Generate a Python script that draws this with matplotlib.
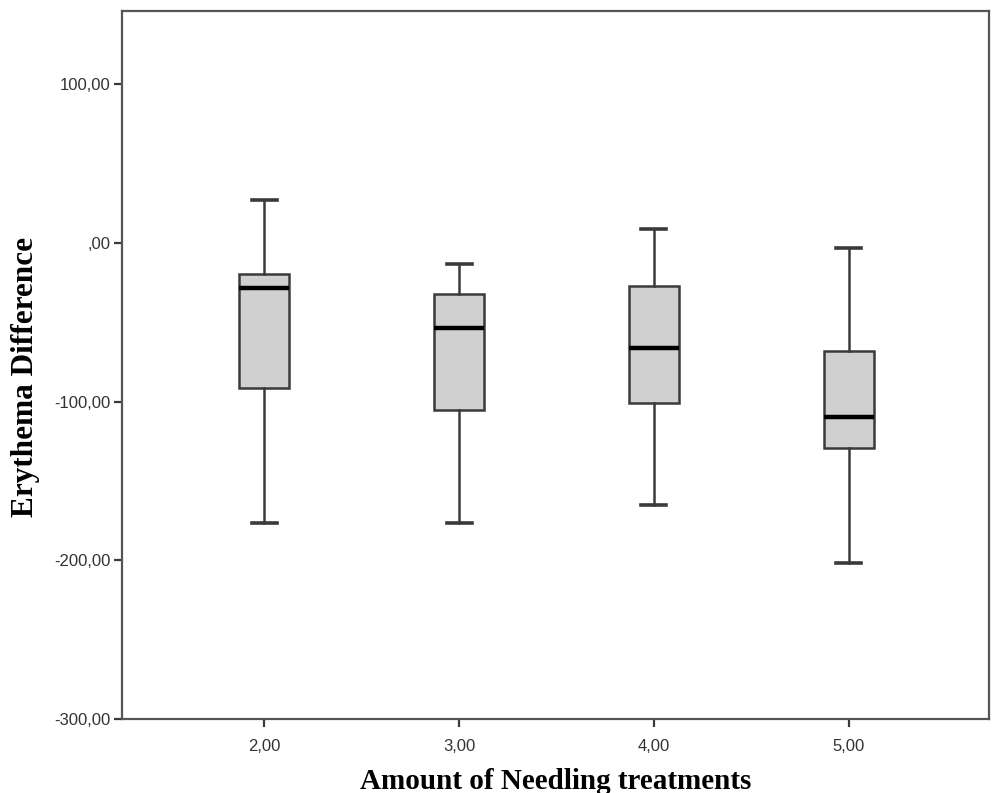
import numpy as np
import matplotlib
matplotlib.use('Agg')
import matplotlib.pyplot as plt

# Du lieu doc tu hinh (5 so: whisker tren, Q3, median, Q1, whisker duoi)
nhom = [2, 3, 4, 5]
nhan_x = ['2,00', '3,00', '4,00', '5,00']
whisker_tren = [27.0, -13.2, 8.8, -3.1]
q3 = [-19.4, -32.0, -26.9, -68.3]
trung_vi = [-28.2, -53.9, -66.1, -109.7]
q1 = [-91.5, -105.3, -100.6, -129.1]
whisker_duoi = [-176.2, -176.2, -165.1, -201.3]

y_ticks = [100, 0, -100, -200, -300]
nhan_y = ['100,00', ',00', '-100,00', '-200,00', '-300,00']

stats = []
for i in range(len(nhom)):
    stats.append({'whishi': whisker_tren[i], 'q3': q3[i], 'med': trung_vi[i],
                  'q1': q1[i], 'whislo': whisker_duoi[i], 'fliers': []})

fig = plt.figure(figsize=(9.92, 7.93), dpi=100)
ax = fig.add_axes([0.123, 0.093, 0.874, 0.893])

mau_vien = '#3a3a3a'
ax.bxp(stats, positions=nhom, widths=0.256, patch_artist=True,
       boxprops=dict(facecolor='#d0d0d0', edgecolor=mau_vien, linewidth=1.8),
       medianprops=dict(color='black', linewidth=3.2),
       whiskerprops=dict(color=mau_vien, linewidth=1.8),
       capprops=dict(color=mau_vien, linewidth=2.6),
       capwidths=0.128)

ax.set_xlim(1.27, 5.72)
ax.set_ylim(-300, 146)
ax.set_xticks(nhom)
ax.set_xticklabels(nhan_x)
ax.set_yticks(y_ticks)
ax.set_yticklabels(nhan_y)

for s in ax.spines.values():
    s.set_color('#555555')
    s.set_linewidth(1.6)

ax.tick_params(axis='both', colors='#3a3a3a', labelcolor='#333333',
               labelsize=12, length=6, width=1.6, direction='out')
ax.tick_params(axis='x', pad=8)
ax.tick_params(axis='y', pad=2)
for t in ax.get_xticklabels() + ax.get_yticklabels():
    t.set_family('Liberation Sans')

ax.set_xlabel('Amount of Needling treatments', family='Liberation Serif',
              fontweight='bold', fontsize=21, labelpad=10)
ax.set_ylabel('Erythema Difference', family='Liberation Serif',
              fontweight='bold', fontsize=22.5)
ax.yaxis.set_label_coords(-0.095, 0.484)

fig.savefig('out.png', dpi=100)
